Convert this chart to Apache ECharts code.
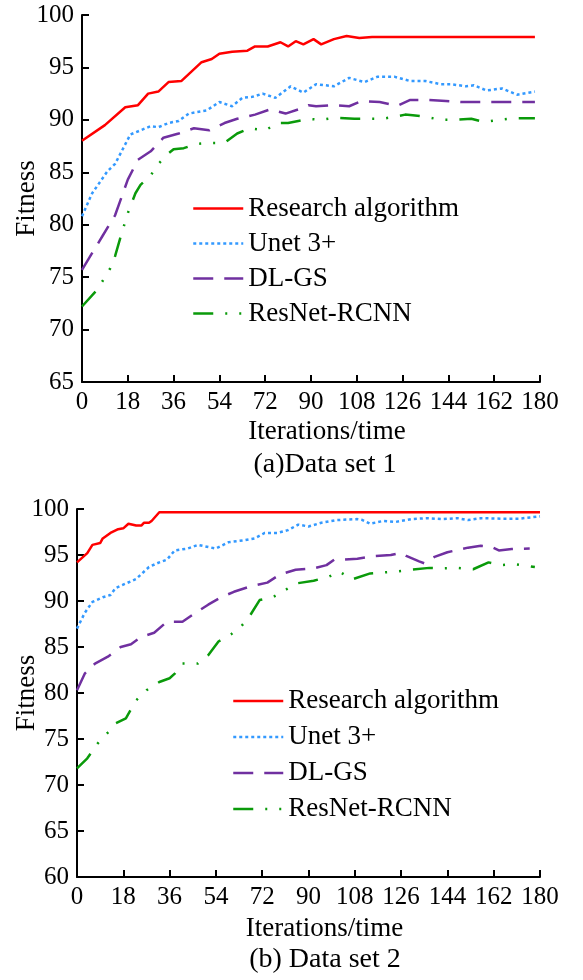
<!DOCTYPE html>
<html>
<head>
<meta charset="utf-8">
<script src="https://cdn.jsdelivr.net/npm/echarts@6/dist/echarts.min.js"></script>
<style>
  html, body { margin: 0; padding: 0; background: #fff; }
  #chart { width: 583px; height: 980px; }
</style>
</head>
<body>
<div id="chart"></div>
<script>
// legend names and colours
const names = ["Research algorithm", "Unet 3+", "DL-GS", "ResNet-RCNN"];
const xTicks = [0, 18, 36, 54, 72, 90, 108, 126, 144, 162, 180];

// Data set 1: [iteration, fitness]
const set1Research = [[0,88.0],[9,89.5],[17,91.2],[22,91.4],[26,92.5],[30,92.7],[34,93.6],[39,93.7],[47,95.5],[51,95.8],[54,96.3],[59,96.5],[65,96.6],[68,97.0],[73,97.0],[78,97.4],[81,97.0],[84,97.5],[87,97.2],[91,97.7],[94,97.2],[99,97.7],[104,98.0],[109,97.8],[114,97.9],[178,97.9]];
const set1Unet = [[0,80.8],[4,83.0],[10,85.1],[13,85.8],[19,88.6],[23,89.0],[27,89.4],[30,89.3],[34,89.7],[38,89.9],[42,90.6],[49,90.9],[54,91.7],[59,91.3],[63,92.1],[67,92.2],[71,92.5],[76,92.1],[82,93.2],[87,92.6],[92,93.4],[99,93.2],[105,94.0],[111,93.6],[116,94.1],[123,94.1],[129,93.7],[135,93.7],[141,93.4],[145,93.4],[151,93.2],[154,93.3],[159,92.8],[165,93.0],[171,92.4],[178,92.7]];
const set1DLGS = [[0,75.7],[8,78.9],[13,80.9],[18,84.3],[22,86.2],[27,87.0],[32,88.3],[38,88.7],[44,89.2],[50,89.0],[56,89.7],[61,90.1],[68,90.5],[74,91.0],[80,90.6],[85,91.0],[89,91.4],[92,91.3],[99,91.4],[105,91.3],[110,91.8],[117,91.7],[124,91.35],[129,91.9],[136,91.9],[143,91.8],[149,91.7],[178,91.7]];
const set1ResNet = [[0,72.2],[6,73.8],[11,75.8],[13,77.0],[15,78.7],[18,81.1],[21,83.0],[23,83.8],[27,84.7],[30,85.8],[34,86.8],[36,87.2],[40,87.3],[45,87.7],[50,87.8],[56,87.8],[61,88.7],[66,89.2],[72,89.0],[77,89.7],[81,89.7],[85,89.9],[89,90.1],[94,90.0],[99,90.2],[107,90.1],[118,90.1],[123,90.3],[127,90.5],[130,90.45],[135,90.3],[141,90.0],[146,90.0],[153,90.1],[158,89.8],[164,90.0],[169,90.15],[178,90.15]];

// Data set 2: [iteration, fitness]
const set2Research = [[0,94.2],[4,95.2],[6,96.1],[9,96.3],[10,96.8],[13,97.4],[16,97.8],[18,97.9],[20,98.4],[23,98.2],[25,98.2],[26,98.5],[28,98.5],[29,98.7],[32,99.65],[180,99.65]];
const set2Unet = [[0,87.0],[3,88.7],[6,89.9],[10,90.4],[13,90.65],[15,91.4],[19,91.9],[23,92.4],[28,93.7],[32,94.2],[35,94.5],[38,95.5],[43,95.7],[47,96.1],[54,95.7],[59,96.4],[65,96.6],[69,96.8],[73,97.4],[78,97.4],[82,97.7],[86,98.3],[90,98.1],[95,98.5],[101,98.8],[109,98.9],[111,98.8],[114,98.4],[119,98.7],[124,98.6],[130,98.9],[136,99.0],[142,98.9],[148,99.0],[152,98.8],[157,99.0],[165,98.95],[172,98.95],[180,99.2]];
const set2DLGS = [[0,80.3],[3,82.1],[7,83.2],[12,83.95],[17,85.0],[21,85.3],[25,86.1],[30,86.55],[35,87.75],[41,87.75],[46,88.7],[51,89.6],[56,90.4],[61,91.0],[67,91.55],[74,92.0],[79,92.9],[85,93.4],[92,93.55],[97,93.9],[100,94.5],[104,94.5],[109,94.6],[116,94.9],[122,95.0],[126,95.25],[128,94.9],[133,94.3],[135,94.1],[139,94.8],[144,95.3],[152,95.8],[157,96.0],[161,95.9],[164,95.5],[169,95.65],[176,95.7]];
const set2ResNet = [[0,71.8],[4,72.9],[8,74.5],[12,75.7],[15,76.7],[19,77.25],[23,79.2],[27,80.3],[32,81.2],[36,81.6],[38,82.1],[41,83.2],[47,83.2],[51,84.1],[55,85.6],[60,86.4],[64,87.3],[67,88.3],[71,90.1],[76,90.4],[81,91.2],[85,91.9],[92,92.2],[98,92.65],[102,93.2],[107,92.35],[114,93.0],[119,93.1],[124,93.2],[130,93.4],[137,93.6],[142,93.55],[148,93.6],[154,93.45],[160,94.2],[165,93.9],[170,94.0],[178,93.7]];

const serif = "'Liberation Serif', 'Times New Roman', serif";
const colors = ["#ff0000", "#3399ff", "#7030a0", "#0a9a0a"];
const dashes = ["solid", [3, 3], [20, 11], [20, 12, 2, 12, 2, 12]];
const widths = [2.5, 2.5, 2.5, 2.5];

function xAxisOpt(gridIndex, gap) {
    return {
        gridIndex: gridIndex,
        type: 'value',
        min: 0, max: 180, interval: 18,
        name: 'Iterations/time',
        nameLocation: 'middle',
        nameGap: gap,
        nameMoveOverlap: false,
        nameTextStyle: { fontFamily: serif, fontSize: 27, color: '#000', padding: [0, 0, 0, 32] },
        axisLine: { lineStyle: { color: '#000', width: 2 } },
        axisTick: { inside: true, length: 7, lineStyle: { color: '#000', width: 2 } },
        axisLabel: { fontFamily: serif, fontSize: 25, color: '#000', margin: 8 },
        splitLine: { show: false }
    };
}
function yAxisOpt(gridIndex, min, gap) {
    return {
        gridIndex: gridIndex,
        type: 'value',
        min: min, max: 100, interval: 5,
        name: 'Fitness',
        nameLocation: 'middle',
        nameGap: gap,
        nameMoveOverlap: false,
        nameTextStyle: { fontFamily: serif, fontSize: 27, color: '#000' },
        axisLine: { show: true, lineStyle: { color: '#000', width: 2 } },
        axisTick: { show: true, inside: true, length: 7, lineStyle: { color: '#000', width: 2 } },
        axisLabel: { fontFamily: serif, fontSize: 25, color: '#000', margin: 8 },
        splitLine: { show: false }
    };
}
function lineSeries(i, data, idx) {
    return {
        name: names[i],
        type: 'line',
        xAxisIndex: idx, yAxisIndex: idx,
        data: data,
        symbol: 'none',
        smooth: false,
        lineStyle: { color: colors[i], width: widths[i], type: dashes[i] },
        itemStyle: { color: colors[i] }
    };
}
function legendOpt(left, top, lh) {
    return {
        orient: 'vertical',
        left: left, top: top,
        padding: 0,
        itemWidth: 50, itemHeight: 14,
        itemGap: 0,
        data: names,
        selectedMode: false,
        itemStyle: { opacity: 0 },
        lineStyle: { width: 2.5 },
        textStyle: { fontFamily: serif, fontSize: 27, color: '#000', lineHeight: lh }
    };
}

const myChart = echarts.init(document.getElementById('chart'), null, { renderer: 'canvas' });
const option = {
    animation: false,
    backgroundColor: '#fff',
    grid: [
        { left: 82, top: 15, width: 458, height: 367, outerBoundsMode: 'none' },
        { left: 77, top: 509, width: 463, height: 368, outerBoundsMode: 'none' }
    ],
    xAxis: [xAxisOpt(0, 36), xAxisOpt(1, 38)],
    yAxis: [yAxisOpt(0, 65, 42), yAxisOpt(1, 60, 37)],
    legend: [legendOpt(192, 191, 35), legendOpt(232, 683, 36)],
    graphic: [
        { type: 'text', x: 325, y: 465, style: { text: '(a)Data set 1', font: '28px ' + serif, fill: '#000', align: 'center', verticalAlign: 'middle' } },
        { type: 'text', x: 325, y: 960, style: { text: '(b) Data set 2', font: '28px ' + serif, fill: '#000', align: 'center', verticalAlign: 'middle' } }
    ],
    series: [
        lineSeries(0, set1Research, 0),
        lineSeries(1, set1Unet, 0),
        lineSeries(2, set1DLGS, 0),
        lineSeries(3, set1ResNet, 0),
        lineSeries(0, set2Research, 1),
        lineSeries(1, set2Unet, 1),
        lineSeries(2, set2DLGS, 1),
        lineSeries(3, set2ResNet, 1)
    ]
};
option && myChart.setOption(option);
</script>
</body>
</html>
